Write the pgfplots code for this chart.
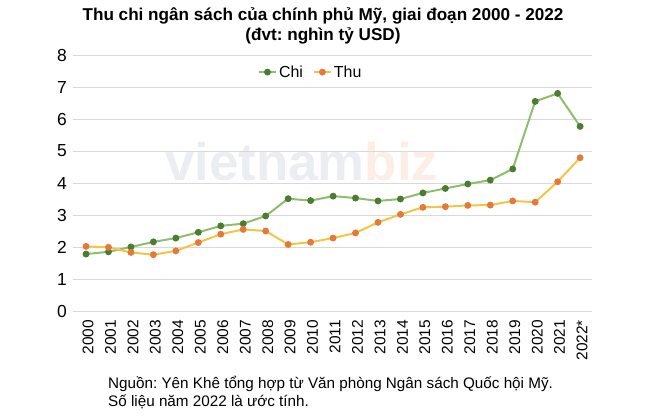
\documentclass[border=0pt]{standalone}
\usepackage{pgfplots}
\pgfplotsset{compat=1.18}
\usepackage{fontspec}
\setmainfont{Liberation Sans}
\frenchspacing
\definecolor{chiline}{HTML}{8DBE6C}
\definecolor{chimark}{HTML}{4B7C32}
\definecolor{thuline}{HTML}{F6C445}
\definecolor{thumark}{HTML}{E27A3A}
\definecolor{gridc}{HTML}{D9D9D9}
\definecolor{wm}{HTML}{EAEEF2}
\definecolor{wmo}{HTML}{FBEEE6}
\begin{document}
\begin{tikzpicture}[x=1bp,y=1bp]
\path[use as bounding box] (0,0) rectangle (666,-419);
\node[font=\fontsize{17.2}{20}\selectfont\bfseries] at (323,-16) {Thu chi ngân sách của chính phủ Mỹ, giai đoạn 2000 - 2022};
\node[font=\fontsize{17.2}{20}\selectfont\bfseries] at (323,-36) {(đvt: nghìn tỷ USD)};
\node[font=\fontsize{53}{53}\selectfont\bfseries, text=wm, anchor=base west, inner sep=0] at (165,-180) {vietnam\textcolor{wmo}{biz}};
\begin{axis}[
  at={(73bp,-311bp)}, anchor=south west,
  scale only axis, width=519bp, height=256bp,
  xmin=-0.58, xmax=22.53, ymin=0, ymax=8,
  axis line style={draw=none},
  ytick={0,1,...,8},
  xtick={0,...,22},
  xticklabels={2000,2001,2002,2003,2004,2005,2006,2007,2008,2009,2010,2011,2012,2013,2014,2015,2016,2017,2018,2019,2020,2021,2022*},
  x tick label style={rotate=90, anchor=east, font=\fontsize{15.5}{15.5}\selectfont},
  y tick label style={font=\fontsize{17.5}{17.5}\selectfont},
  /pgf/number format/assume math mode=true,
  ymajorgrids, grid style={gridc, line width=1pt},
  major tick length=0pt,
  tick label style={inner sep=2pt},
  xticklabel style={yshift=-2bp, xshift=-7bp},
  yticklabel style={xshift=-4bp},
  legend columns=2,
  legend style={draw=none, fill=none, at={(0.458,0.975)}, anchor=north, font=\fontsize{16}{16}\selectfont, /tikz/every even column/.append style={column sep=8bp}},
  clip=false,
]
\addplot[chiline, line width=2pt, mark=*, mark size=2.4pt, mark options={fill=chimark, draw=chimark}] coordinates {
(0,1.78)(1,1.85)(2,2.00)(3,2.16)(4,2.28)(5,2.46)(6,2.66)(7,2.73)(8,2.97)(9,3.51)(10,3.45)(11,3.59)(12,3.53)(13,3.44)(14,3.50)(15,3.69)(16,3.83)(17,3.97)(18,4.09)(19,4.44)(20,6.55)(21,6.80)(22,5.77)};
\addlegendentry{Chi}
\addplot[thuline, line width=2pt, mark=*, mark size=2.4pt, mark options={fill=thumark, draw=thumark}] coordinates {
(0,2.02)(1,1.99)(2,1.83)(3,1.76)(4,1.88)(5,2.14)(6,2.40)(7,2.55)(8,2.50)(9,2.08)(10,2.15)(11,2.28)(12,2.44)(13,2.77)(14,3.02)(15,3.24)(16,3.26)(17,3.30)(18,3.31)(19,3.44)(20,3.40)(21,4.04)(22,4.79)};
\addlegendentry{Thu}
\end{axis}
\node[anchor=base west, font=\fontsize{15.3}{18}\selectfont, align=left, inner sep=0] at (108,-388) {Nguồn: Yên Khê tổng hợp từ Văn phòng Ngân sách Quốc hội Mỹ.};
\node[anchor=base west, font=\fontsize{15.3}{18}\selectfont, align=left, inner sep=0] at (108,-406) {Số liệu năm 2022 là ước tính.};
\end{tikzpicture}
\end{document}
